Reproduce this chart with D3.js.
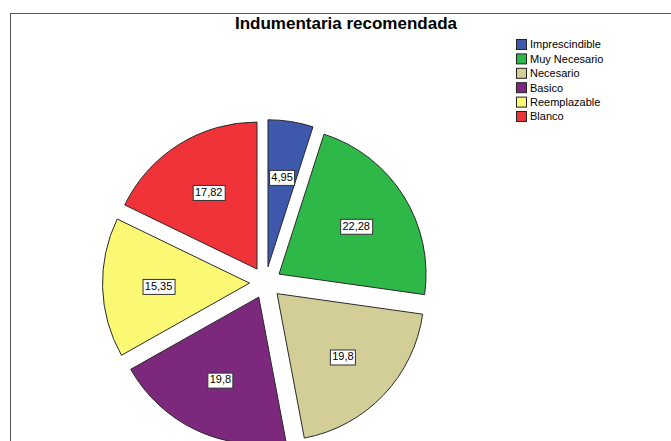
<!DOCTYPE html>
<html>
<head>
<meta charset="utf-8">
<script src="https://cdn.jsdelivr.net/npm/d3@7"></script>
<style>
  html, body { margin: 0; padding: 0; background: #fff; }
  svg { display: block; font-family: "Liberation Sans", Arial, sans-serif; }
</style>
</head>
<body>
<svg id="chart" width="671" height="441"></svg>
<script>
const title = "Indumentaria recomendada";
const categories = ["Imprescindible", "Muy Necesario", "Necesario", "Basico", "Reemplazable", "Blanco"];
const values = [4.95, 22.28, 19.8, 19.8, 15.35, 17.82];
const colors = ["#3E58AC", "#2EB848", "#D3CE97", "#7B287D", "#FBF873", "#EF3338"];

const svg = d3.select("#chart");
const W = 671, H = 441;

// frame
svg.append("rect")
  .attr("x", 10.5).attr("y", 13.5)
  .attr("width", W + 20).attr("height", H + 20)
  .attr("fill", "#fff").attr("stroke", "#555").attr("stroke-width", 1);

// title
svg.append("text")
  .attr("x", 346).attr("y", 29)
  .attr("text-anchor", "middle")
  .attr("font-size", 17).attr("font-weight", "bold")
  .attr("fill", "#000")
  .text(title);

// pie
const cx = 265.5, cy = 282.6, r = 147, explode = 16, labelR = 91;
const pie = d3.pie().sort(null).value(d => d).startAngle(0).endAngle(2 * Math.PI);
const arcs = pie(values);
const arc = d3.arc().innerRadius(0).outerRadius(r);

const g = svg.append("g").attr("transform", `translate(${cx},${cy})`);

const slices = g.selectAll("g.slice").data(arcs).enter().append("g")
  .attr("class", "slice")
  .attr("transform", d => {
    const m = (d.startAngle + d.endAngle) / 2;
    return `translate(${Math.sin(m) * explode},${-Math.cos(m) * explode})`;
  });

slices.append("path")
  .attr("d", arc)
  .attr("fill", (d, i) => colors[i])
  .attr("stroke", "#2a2a2a")
  .attr("stroke-width", 1)
  .attr("stroke-linejoin", "round");

const fmt = v => String(v).replace(".", ",");

const labels = slices.append("g")
  .attr("transform", d => {
    const m = (d.startAngle + d.endAngle) / 2;
    return `translate(${Math.sin(m) * labelR},${-Math.cos(m) * labelR})`;
  });

labels.each(function(d) {
  const gl = d3.select(this);
  const t = gl.append("text")
    .attr("text-anchor", "middle")
    .attr("dy", "0.35em")
    .attr("font-size", 11)
    .attr("fill", "#000")
    .text(fmt(d.data));
  const bb = t.node().getBBox();
  gl.insert("rect", "text")
    .attr("x", Math.round(bb.x - 2.5) + 0.5)
    .attr("y", Math.round(-7.5) + 0.5)
    .attr("width", Math.round(bb.width + 4))
    .attr("height", 15)
    .attr("fill", "#fff")
    .attr("stroke", "#333")
    .attr("stroke-width", 1);
});

// legend
const legend = svg.append("g").attr("transform", "translate(516,39)");
const rowH = 14.4;
const items = legend.selectAll("g").data(categories).enter().append("g")
  .attr("transform", (d, i) => `translate(0,${i * rowH})`);
items.append("rect")
  .attr("x", 0.5).attr("y", 0.5)
  .attr("width", 10).attr("height", 10)
  .attr("fill", (d, i) => colors[i])
  .attr("stroke", "#222").attr("stroke-width", 1);
items.append("text")
  .attr("x", 14).attr("y", 5.5)
  .attr("dy", "0.35em")
  .attr("font-size", 11)
  .attr("fill", "#000")
  .text(d => d);
</script>
</body>
</html>
